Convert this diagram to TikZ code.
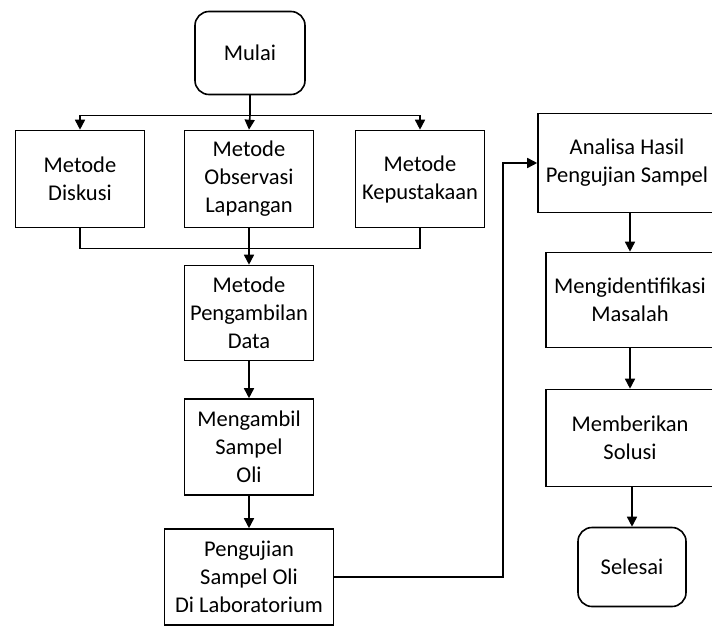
\documentclass[tikz,border=0pt]{standalone}
\usepackage{fontspec}
\setmainfont{Carlito}
\usetikzlibrary{arrows.meta}

\begin{document}
\begin{tikzpicture}
[
   x=1pt,y=-1pt,
   line width=1.6pt,
   >={Triangle[length=10pt,width=10pt]},
   every node/.style={draw,align=center,inner sep=0pt,
     font=\fontsize{22.5}{28}\selectfont},
   proses/.style={rectangle,minimum width=129pt,minimum height=97pt},
   terminal/.style={rectangle,rounded corners=14pt}
]
\useasboundingbox (0,0) rectangle (712,627);

% mulai dan tiga metode
\node [terminal,minimum width=110pt,minimum height=83pt] (mulai) at (250,53) {Mulai};
\node [proses] (diskusi) at (80,179) {Metode\\Diskusi};
\node [proses] (observasi) at (249,179) {Metode\\Observasi\\Lapangan};
\node [proses] (pustaka) at (420,179) {Metode\\Kepustakaan};

% jalur tengah
\node [proses,minimum height=95pt] (ambildata) at (249,313) {Metode\\Pengambilan\\Data};
\node [proses,minimum height=96pt] (sampel) at (249,447) {Mengambil\\Sampel\\Oli};
\node [proses,minimum width=169pt,minimum height=96pt] (uji) at (249,577) {Pengujian\\Sampel Oli\\Di Laboratorium};

% jalur kanan
\node [proses,minimum width=178pt,minimum height=99pt] (analisa) at (627,163) {Analisa Hasil\\Pengujian Sampel};
\node [proses,minimum width=168pt,minimum height=95pt] (identifikasi) at (630,300) {Mengidentifikasi\\Masalah};
\node [proses,minimum width=168pt,minimum height=97pt] (solusi) at (630,438) {Memberikan\\Solusi};
\node [terminal,minimum width=108pt,minimum height=79pt] (selesai) at (632,567) {Selesai};

% percabangan dari mulai
\draw (mulai.south) -- ++(0,20) coordinate (cabang);
\draw (cabang -| diskusi) -- (cabang -| pustaka);
\draw [->] (cabang -| diskusi) -- (diskusi.north);
\draw [->] (cabang) -- (observasi.north);
\draw [->] (cabang -| pustaka) -- (pustaka.north);

% gabungan ke pengambilan data
\draw (diskusi.south) -- ++(0,20) -| (pustaka.south);
\draw [->] (observasi.south) -- (ambildata.north);
\draw [->] (ambildata) -- (sampel);
\draw [->] (sampel) -- (uji);

% ke analisa dan seterusnya
\draw [->] (uji.east) -- (503,577) |- (analisa.west);
\draw [->] (analisa.south -| identifikasi) -- (identifikasi.north);
\draw [->] (identifikasi) -- (solusi);
\draw [->] (solusi.south -| selesai) -- (selesai.north);
\end{tikzpicture}
\end{document}
